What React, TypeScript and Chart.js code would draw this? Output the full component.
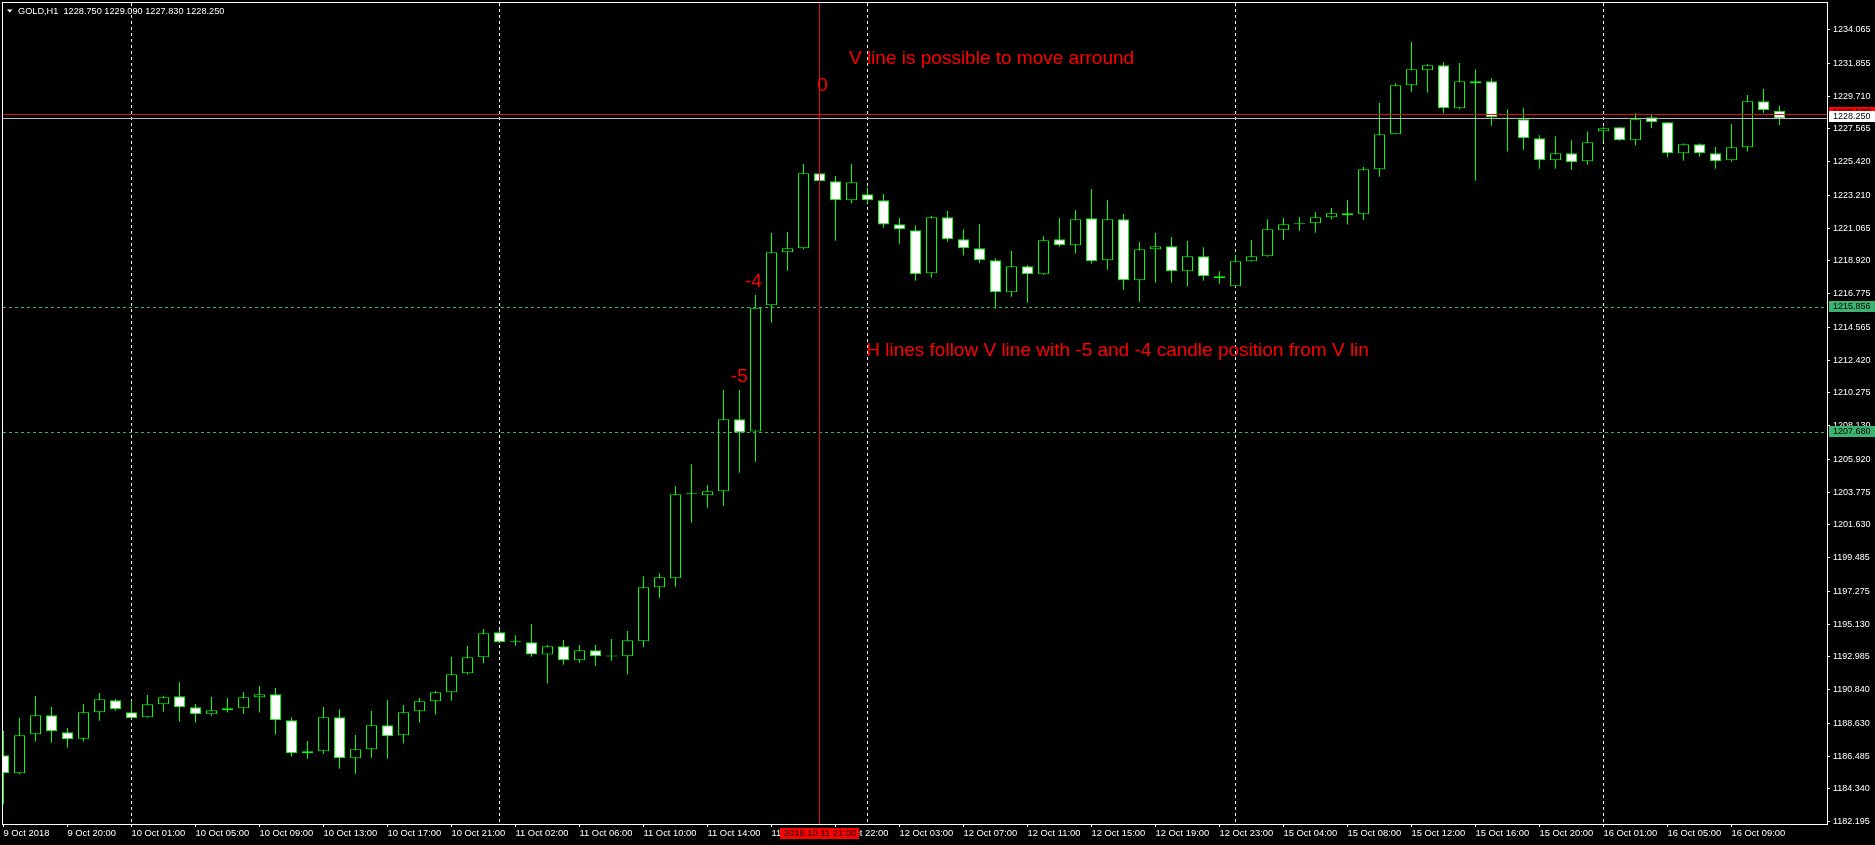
import { useEffect, useRef } from 'react';
import { Chart, registerables } from 'chart.js';

Chart.register(...registerables);

// GOLD H1 bars, 9 Oct 16:00 .. 16 Oct 12:00
const SYMBOL = 'GOLD,H1';
const OPEN = [
  1186.55, 1185.37, 1187.92, 1189.17, 1188.05, 1187.63, 1189.36, 1190.15, 1189.36, 1189.04,
  1189.89, 1190.41, 1189.69, 1189.23, 1189.49, 1189.62, 1190.35, 1190.54, 1188.84, 1186.68,
  1186.81, 1189.04, 1186.35, 1186.94, 1188.51, 1187.86, 1189.43, 1190.08, 1190.67, 1191.92,
  1192.97, 1194.60, 1193.96, 1193.95, 1193.14, 1193.69, 1192.77, 1193.42, 1193.04, 1193.03,
  1194.01, 1197.55, 1198.14, 1203.64, 1203.57, 1203.84, 1208.55, 1207.75, 1216.02, 1219.49,
  1219.75, 1224.66, 1224.14, 1222.89, 1223.29, 1222.89, 1221.32, 1220.93, 1218.11, 1221.78,
  1220.34, 1219.75, 1218.96, 1216.87, 1218.57, 1218.05, 1220.34, 1219.95, 1221.71, 1218.96,
  1221.65, 1217.65, 1219.68, 1219.88, 1218.24, 1219.23, 1217.92, 1217.26, 1218.90, 1219.23,
  1220.93, 1221.33, 1221.39, 1221.78, 1222.04, 1221.98, 1224.92, 1227.22, 1230.42, 1231.41,
  1231.73, 1228.92, 1230.55, 1230.69, 1228.30, 1228.20, 1226.95, 1225.51, 1225.97, 1225.45,
  1227.41, 1227.67, 1226.82, 1228.33, 1228.00, 1225.97, 1226.56, 1225.97, 1225.51, 1226.36,
  1229.38, 1228.75,
];
const HIGH = [
  1188.14, 1188.99, 1190.43, 1189.71, 1188.33, 1189.91, 1190.63, 1190.23, 1190.12, 1190.50,
  1190.45, 1191.33, 1189.91, 1190.36, 1190.30, 1190.69, 1191.09, 1190.95, 1189.04, 1187.48,
  1189.71, 1189.56, 1187.88, 1189.45, 1190.17, 1189.84, 1190.30, 1190.76, 1192.98, 1193.71,
  1194.82, 1194.75, 1194.41, 1195.15, 1193.77, 1194.10, 1193.77, 1193.77, 1194.16, 1194.69,
  1198.27, 1198.47, 1204.16, 1205.60, 1204.23, 1210.47, 1210.47, 1216.69, 1220.75, 1220.82,
  1225.27, 1224.75, 1224.48, 1225.27, 1223.74, 1223.31, 1221.73, 1221.26, 1221.87, 1222.19,
  1220.99, 1221.34, 1219.10, 1219.57, 1218.66, 1220.54, 1221.73, 1222.26, 1223.63, 1222.91,
  1222.00, 1220.16, 1220.75, 1220.49, 1220.23, 1219.82, 1218.24, 1219.31, 1220.29, 1221.65,
  1221.73, 1221.80, 1222.13, 1222.39, 1222.91, 1225.07, 1229.27, 1230.55, 1233.26, 1231.80,
  1231.93, 1231.88, 1231.47, 1230.88, 1228.85, 1228.92, 1227.15, 1227.08, 1226.82, 1227.41,
  1227.67, 1227.69, 1228.59, 1228.53, 1228.02, 1226.63, 1226.63, 1226.38, 1227.89, 1229.79,
  1230.18, 1229.09,
];
const LOW = [
  1183.34, 1185.30, 1187.44, 1187.37, 1187.04, 1187.44, 1188.81, 1189.47, 1188.94, 1189.00,
  1189.40, 1188.75, 1188.68, 1189.14, 1189.34, 1189.27, 1189.34, 1187.90, 1186.46, 1186.32,
  1186.65, 1185.67, 1185.34, 1186.39, 1186.32, 1187.31, 1188.68, 1189.21, 1190.12, 1191.83,
  1192.55, 1193.88, 1193.72, 1193.00, 1191.24, 1192.48, 1192.61, 1192.41, 1192.74, 1191.83,
  1193.62, 1196.87, 1197.59, 1201.78, 1202.76, 1202.89, 1205.05, 1205.77, 1214.88, 1218.28,
  1219.68, 1224.09, 1220.25, 1222.70, 1222.70, 1221.10, 1220.05, 1217.63, 1217.82, 1220.18,
  1219.27, 1218.77, 1215.79, 1216.58, 1216.19, 1218.00, 1219.85, 1219.40, 1218.74, 1218.35,
  1217.04, 1216.25, 1217.50, 1217.50, 1217.24, 1217.63, 1217.43, 1217.24, 1218.88, 1219.20,
  1220.29, 1220.90, 1220.77, 1221.65, 1221.30, 1221.60, 1224.44, 1227.20, 1230.00, 1229.94,
  1228.59, 1228.85, 1224.18, 1227.78, 1226.08, 1226.21, 1224.96, 1224.96, 1224.90, 1225.22,
  1226.76, 1226.80, 1226.50, 1227.61, 1225.71, 1225.49, 1225.75, 1224.96, 1225.42, 1226.08,
  1228.59, 1227.83,
];
const CLOSE = [
  1185.37, 1187.86, 1189.17, 1188.12, 1187.60, 1189.36, 1190.21, 1189.56, 1188.97, 1189.89,
  1190.35, 1189.69, 1189.23, 1189.49, 1189.62, 1190.35, 1190.54, 1188.84, 1186.68, 1186.81,
  1189.04, 1186.35, 1186.94, 1188.51, 1187.79, 1189.36, 1190.08, 1190.67, 1191.85, 1192.97,
  1194.54, 1193.95, 1193.94, 1193.14, 1193.69, 1192.77, 1193.42, 1193.03, 1193.02, 1194.08,
  1197.55, 1198.20, 1203.64, 1203.65, 1203.84, 1208.55, 1207.68, 1215.856, 1219.49, 1219.75,
  1224.66, 1224.14, 1222.89, 1224.07, 1222.89, 1221.30, 1220.99, 1218.05, 1221.78, 1220.34,
  1219.75, 1218.96, 1216.87, 1218.57, 1218.05, 1220.27, 1219.95, 1221.65, 1218.90, 1221.65,
  1217.65, 1219.68, 1219.88, 1218.24, 1219.23, 1217.92, 1217.79, 1218.90, 1219.23, 1220.99,
  1221.32, 1221.38, 1221.78, 1222.04, 1221.91, 1224.92, 1227.22, 1230.42, 1231.47, 1231.73,
  1228.92, 1230.69, 1230.69, 1228.33, 1228.20, 1226.95, 1225.51, 1225.97, 1225.38, 1226.69,
  1227.61, 1226.82, 1228.20, 1228.00, 1225.97, 1226.56, 1225.97, 1225.45, 1226.36, 1229.38,
  1228.79, 1228.25,
];

const TICK_BARS = [0, 4, 8, 12, 16, 20, 24, 28, 32, 36, 40, 44, 48, 52, 56, 60, 64, 68, 72, 76, 80, 84, 88, 92, 96, 100, 104, 108];
const TIME_LABELS = [
  '9 Oct 2018', '9 Oct 20:00', '10 Oct 01:00', '10 Oct 05:00', '10 Oct 09:00', '10 Oct 13:00',
  '10 Oct 17:00', '10 Oct 21:00', '11 Oct 02:00', '11 Oct 06:00', '11 Oct 10:00', '11 Oct 14:00',
  '11 Oct 18:00', '11 Oct 22:00', '12 Oct 03:00', '12 Oct 07:00', '12 Oct 11:00', '12 Oct 15:00',
  '12 Oct 19:00', '12 Oct 23:00', '15 Oct 04:00', '15 Oct 08:00', '15 Oct 12:00', '15 Oct 16:00',
  '15 Oct 20:00', '16 Oct 01:00', '16 Oct 05:00', '16 Oct 09:00',
];
const PRICE_TICKS = [
  1234.065, 1231.855, 1229.71, 1227.565, 1225.42, 1223.21, 1221.065, 1218.92, 1216.775,
  1214.565, 1212.42, 1210.275, 1208.13, 1205.92, 1203.775, 1201.63, 1199.485, 1197.275,
  1195.13, 1192.985, 1190.84, 1188.63, 1186.485, 1184.34, 1182.195,
];
// first bar of each trading day (period separators)
const DAY_STARTS = [8, 31, 54, 77, 100];

// vertical marker and the two levels that follow it
const V_BAR = 51;
const V_TIME = '2018.10.11 21:00';
const H_OFFSETS = [-4, -5];
const ASK = 1228.53;

const NOTES = [
  { text: 'V line is possible to move arround', bar: 52.84, price: 1231.82 },
  { text: '0', bar: 50.86, price: 1230.05 },
  { text: '-4', bar: 46.34, price: 1217.23 },
  { text: '-5', bar: 45.46, price: 1210.97 },
  { text: 'H lines follow V line with -5 and -4 candle position from V lin', bar: 53.92, price: 1212.69 },
];

const FONT = '"Liberation Sans", Arial, sans-serif';
const CANDLE = '#00ff00';
const LEVEL = '#3cb371';

const overlay = {
  id: 'terminalOverlay',
  beforeDraw(chart: any) {
    const { ctx, width, height } = chart;
    ctx.save();
    ctx.fillStyle = '#000';
    ctx.fillRect(0, 0, width, height);
    ctx.restore();
  },
  beforeDatasetsDraw(chart: any) {
    const { ctx, chartArea: a, scales } = chart;
    ctx.save();
    ctx.strokeStyle = '#ffffff';
    ctx.lineWidth = 1;
    ctx.setLineDash([3, 3]);
    for (const b of DAY_STARTS) {
      const x = Math.floor(scales.x.getPixelForValue(b)) + 0.5;
      ctx.beginPath();
      ctx.moveTo(x, a.top);
      ctx.lineTo(x, a.bottom);
      ctx.stroke();
    }
    ctx.restore();
  },
  afterDatasetsDraw(chart: any) {
    const { ctx, chartArea: a, scales } = chart;
    const xs = scales.x;
    const ys = scales.y;
    ctx.save();
    ctx.beginPath();
    ctx.rect(a.left, a.top, a.right - a.left, a.bottom - a.top);
    ctx.clip();
    ctx.lineWidth = 1;

    const hline = (price: number, color: string, dash: number[]) => {
      const y = Math.floor(ys.getPixelForValue(price)) + 0.5;
      ctx.strokeStyle = color;
      ctx.setLineDash(dash);
      ctx.beginPath();
      ctx.moveTo(a.left, y);
      ctx.lineTo(a.right, y);
      ctx.stroke();
    };
    for (const off of H_OFFSETS) hline(CLOSE[V_BAR + off], LEVEL, [3, 3]);
    hline(ASK, '#e01010', []);
    hline(CLOSE[CLOSE.length - 1], '#b8b8b8', []);

    const vx = Math.floor(xs.getPixelForValue(V_BAR)) + 0.5;
    ctx.setLineDash([]);
    ctx.strokeStyle = '#e01010';
    ctx.beginPath();
    ctx.moveTo(vx, a.top);
    ctx.lineTo(vx, a.bottom);
    ctx.stroke();

    ctx.fillStyle = '#ff0000';
    ctx.font = `19px ${FONT}`;
    ctx.textAlign = 'left';
    ctx.textBaseline = 'alphabetic';
    for (const n of NOTES) {
      ctx.fillText(n.text, xs.getPixelForValue(n.bar), ys.getPixelForValue(n.price));
    }
    ctx.restore();
  },
  afterDraw(chart: any) {
    const { ctx, chartArea: a, scales, width } = chart;
    const xs = scales.x;
    const ys = scales.y;
    ctx.save();

    // frame
    ctx.strokeStyle = '#ffffff';
    ctx.lineWidth = 1;
    ctx.strokeRect(a.left - 0.5, a.top - 0.5, a.right - a.left + 1, a.bottom - a.top + 1);

    // header: symbol and last bar OHLC
    const n = CLOSE.length - 1;
    ctx.fillStyle = '#ffffff';
    ctx.beginPath();
    ctx.moveTo(7, 9.5);
    ctx.lineTo(12.5, 9.5);
    ctx.lineTo(9.75, 12.5);
    ctx.closePath();
    ctx.fill();
    ctx.font = `9.2px ${FONT}`;
    ctx.textAlign = 'left';
    ctx.textBaseline = 'alphabetic';
    const ohlc = [OPEN[n], HIGH[n], LOW[n], CLOSE[n]].map((v) => v.toFixed(3)).join(' ');
    ctx.fillText(`${SYMBOL}  ${ohlc}`, 18, 14);

    // price tags on the right axis
    const tag = (price: number, bg: string, fg: string) => {
      const top = Math.round(ys.getPixelForValue(price)) - 7;
      ctx.fillStyle = bg;
      ctx.fillRect(a.right + 2, top, width - a.right - 2, 11);
      ctx.fillStyle = fg;
      ctx.font = `9px ${FONT}`;
      ctx.textBaseline = 'middle';
      ctx.fillText(price.toFixed(3), a.right + 6, top + 5.5);
    };
    for (const off of H_OFFSETS) tag(CLOSE[V_BAR + off], LEVEL, '#000');
    tag(ASK, '#ff0000', '#000');
    tag(CLOSE[n], '#ffffff', '#000');

    // time tag of the vertical marker
    const vx = Math.round(xs.getPixelForValue(V_BAR));
    ctx.fillStyle = '#ff0000';
    ctx.fillRect(vx - 40, a.bottom + 4, 79, 11);
    ctx.fillStyle = '#000';
    ctx.font = `9.4px ${FONT}`;
    ctx.textAlign = 'center';
    ctx.textBaseline = 'middle';
    ctx.fillText(V_TIME, vx, a.bottom + 9.5);
    ctx.restore();
  },
};

export default function App() {
  const ref = useRef<HTMLCanvasElement>(null);

  useEffect(() => {
    if (!ref.current) return;
    const idx = OPEN.map((_, i) => i);
    const chart = new Chart(ref.current, {
      type: 'bar',
      data: {
        datasets: [
          {
            label: 'wicks',
            data: idx.map((i) => ({ x: i, y: [LOW[i], HIGH[i]] })) as any,
            backgroundColor: CANDLE,
            borderWidth: 0,
            barThickness: 1,
            grouped: false,
            inflateAmount: 0,
            order: 2,
          } as any,
          {
            label: 'bodies',
            data: idx.map((i) => ({ x: i, y: [OPEN[i], CLOSE[i]] })) as any,
            backgroundColor: idx.map((i) => (CLOSE[i] >= OPEN[i] ? '#000000' : '#ffffff')),
            borderColor: CANDLE,
            borderWidth: 1,
            borderSkipped: false,
            barThickness: 11,
            minBarLength: 1,
            grouped: false,
            inflateAmount: 0,
            order: 1,
          } as any,
        ],
      },
      options: {
        responsive: false,
        maintainAspectRatio: false,
        animation: false,
        devicePixelRatio: 1,
        events: [],
        layout: { padding: { left: 3, top: 3, right: 0, bottom: 0 } },
        plugins: { legend: { display: false }, tooltip: { enabled: false } },
        scales: {
          x: {
            type: 'linear',
            position: 'bottom',
            offset: false,
            min: -0.03125,
            max: 113.96875,
            bounds: 'data',
            border: { display: false },
            grid: { offset: false, drawOnChartArea: false, drawTicks: true, tickLength: 3, color: '#ffffff' },
            ticks: {
              color: '#ffffff',
              font: { family: FONT, size: 9.4 },
              align: 'start',
              padding: 1,
              autoSkip: false,
              maxRotation: 0,
              minRotation: 0,
              callback: (v: any) => TIME_LABELS[TICK_BARS.indexOf(Number(v))] ?? '',
            },
            afterBuildTicks: (s: any) => {
              s.ticks = TICK_BARS.map((v) => ({ value: v }));
            },
            afterFit: (s: any) => {
              s.height = 21;
              s.paddingLeft = 0;
              s.paddingRight = 0;
            },
          },
          y: {
            type: 'linear',
            position: 'right',
            min: 1182.045,
            max: 1235.8135,
            bounds: 'data',
            beginAtZero: false,
            border: { display: false },
            grid: { drawOnChartArea: false, drawTicks: true, tickLength: 3, color: '#ffffff' },
            ticks: {
              color: '#ffffff',
              font: { family: FONT, size: 9 },
              padding: 3,
              autoSkip: false,
              callback: (v: any) => Number(v).toFixed(3),
            },
            afterBuildTicks: (s: any) => {
              s.ticks = PRICE_TICKS.map((v) => ({ value: v }));
            },
            afterFit: (s: any) => {
              s.width = 48;
              s.paddingTop = 0;
              s.paddingBottom = 0;
            },
          },
        },
      } as any,
      plugins: [overlay],
    });
    return () => chart.destroy();
  }, []);

  return (
    <div style={{ position: 'absolute', left: 0, top: 0, width: 1875, height: 845, background: '#000' }}>
      <canvas ref={ref} width={1875} height={845} style={{ display: 'block' }} />
    </div>
  );
}
